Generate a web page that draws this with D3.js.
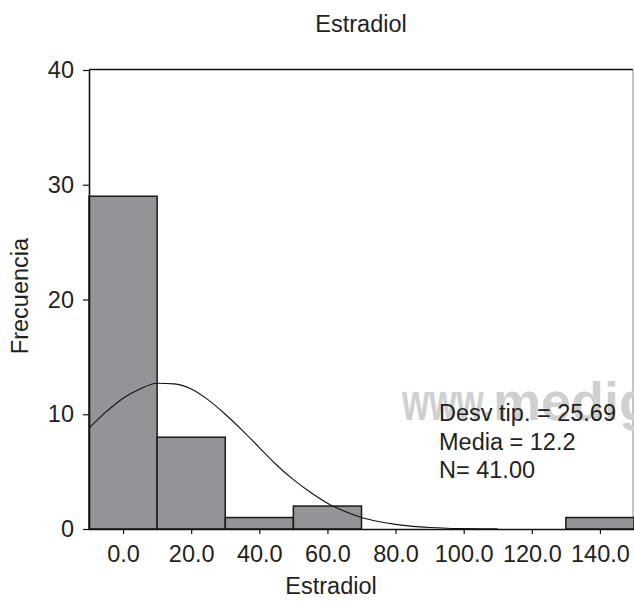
<!DOCTYPE html>
<html lang="es">
  <head>
    <meta charset="utf-8">
    <title>Estradiol | histograma</title>
    <script type="text/javascript" src="https://cdn.jsdelivr.net/npm/d3@7"></script>
    <style>
    body {
      margin: 0;
      background: #ffffff;
    }
    #hist-vis {
      width: 634px;
      height: 601px;
    }
    svg text {
      font-family: "Liberation Sans", Arial, sans-serif;
      fill: #231f20;
    }
    .bar {
      fill: #939498;
      stroke: #1a1a1a;
      stroke-width: 1.5;
    }
    .wm {
      font-size: 54px;
      font-weight: bold;
      fill: #cfd0d2 !important;
    }
    </style>
  </head>
  <body>
    <div id="hist-vis"></div>

    <script type="text/javascript">

      // data
      var binCenters = [0, 20, 40, 60, 80, 100, 120, 140];
      var binCounts = [29, 8, 1, 2, 0, 0, 0, 1];
      var binWidth = 20;
      var yTickValues = [0, 10, 20, 30, 40];

      // fitted normal curve
      var curveX = [-10, -5, 0, 5, 10, 15, 20, 25, 30, 35, 40, 45, 50, 55, 60, 65, 70, 75, 80, 85, 90, 95, 100, 105, 110];
      var curveY = [8.8, 10.2, 11.4, 12.2, 12.7, 12.65, 12.2, 11.25, 10.0, 8.6, 7.1, 5.6, 4.3, 3.2, 2.25, 1.55, 1.0, 0.65, 0.4, 0.23, 0.13, 0.07, 0.04, 0.02, 0.01];

      var statLines = ['Desv tip. = 25.69', 'Media = 12.2', 'N= 41.00'];

      var dims = { w: 634, h: 601, left: 89, right: 634, top: 70, bottom: 529 };
      var fontSize = '23.5px';

      var svg = d3.select('#hist-vis')
        .append('svg')
          .attr('width', dims.w)
          .attr('height', dims.h);

      // scales
      var xScale = d3.scaleLinear()
        .domain([-10, 150])
        .range([dims.left, dims.right]);

      var yScale = d3.scaleLinear()
        .domain([0, 40])
        .range([dims.bottom, dims.top]);

      // frame top + right
      svg.append('line')
        .attr('x1', dims.left).attr('x2', 633)
        .attr('y1', dims.top - 0.5).attr('y2', dims.top - 0.5)
        .attr('stroke', '#111').attr('stroke-width', 1.3);
      svg.append('line')
        .attr('x1', 633).attr('x2', 633)
        .attr('y1', dims.top - 0.5).attr('y2', dims.bottom)
        .attr('stroke', '#8a8a8a').attr('stroke-width', 1);

      // bars
      var bars = binCenters.map(function(c, i) {
        return { x0: c - binWidth / 2, x1: c + binWidth / 2, n: binCounts[i] };
      }).filter(function(d) { return d.n > 0; });

      svg.selectAll('.bar')
        .data(bars)
        .enter()
        .append('rect')
          .attr('class', 'bar')
          .attr('x', function(d) { return xScale(d.x0); })
          .attr('y', function(d) { return yScale(d.n); })
          .attr('width', function(d) { return xScale(d.x1) - xScale(d.x0); })
          .attr('height', function(d) { return yScale(0) - yScale(d.n); });

      // watermark: narrow "www." then "medig" running off the edge
      svg.append('text')
        .attr('class', 'wm')
        .attr('x', 402)
        .attr('y', 420)
        .attr('textLength', 90)
        .attr('lengthAdjust', 'spacingAndGlyphs')
        .text('www.');
      svg.append('text')
        .attr('class', 'wm')
        .attr('x', 493)
        .attr('y', 420)
        .text('medig');

      // normal curve
      var line = d3.line()
        .x(function(d) { return xScale(d[0]); })
        .y(function(d) { return yScale(d[1]); })
        .curve(d3.curveMonotoneX);

      svg.append('path')
        .datum(curveX.map(function(x, i) { return [x, curveY[i]]; }))
        .attr('d', line)
        .attr('fill', 'none')
        .attr('stroke', '#111')
        .attr('stroke-width', 1.1);

      // axes
      var xAxis = d3.axisBottom(xScale)
        .tickValues(binCenters)
        .tickFormat(d3.format('.1f'))
        .tickSize(5)
        .tickPadding(11);

      var yAxis = d3.axisLeft(yScale)
        .tickValues(yTickValues)
        .tickSize(6)
        .tickPadding(9);

      var gx = svg.append('g')
        .attr('transform', 'translate(0,' + dims.bottom + ')')
        .call(xAxis);
      var gy = svg.append('g')
        .attr('transform', 'translate(' + dims.left + ',0)')
        .call(yAxis);

      [gx, gy].forEach(function(g) {
        g.select('.domain').attr('stroke', '#111').attr('stroke-width', 1.6);
        g.selectAll('.tick line').attr('stroke', '#111').attr('stroke-width', 1.2);
        g.selectAll('.tick text')
          .style('font-size', fontSize)
          .attr('fill', '#231f20')
          .style('font-family', '"Liberation Sans", Arial, sans-serif');
      });
      // straight domain lines, no end caps
      gx.select('.domain').attr('d', 'M' + dims.left + ',0.5H' + dims.right);
      gy.select('.domain').attr('d', 'M0.5,' + dims.bottom + 'V' + dims.top);

      // stats box
      svg.selectAll('.stat')
        .data(statLines)
        .enter()
        .append('text')
          .attr('class', 'stat')
          .attr('x', 439)
          .attr('y', function(d, i) { return 421 + i * 28.5; })
          .style('font-size', fontSize)
          .text(function(d) { return d; });

      // titles
      svg.append('text')
        .attr('x', 361).attr('y', 32)
        .attr('text-anchor', 'middle')
        .style('font-size', fontSize)
        .text('Estradiol');

      svg.append('text')
        .attr('x', 331).attr('y', 594)
        .attr('text-anchor', 'middle')
        .style('font-size', fontSize)
        .text('Estradiol');

      svg.append('text')
        .attr('transform', 'translate(28,296) rotate(-90)')
        .attr('text-anchor', 'middle')
        .style('font-size', fontSize)
        .text('Frecuencia');

    </script>
  </body>
</html>
